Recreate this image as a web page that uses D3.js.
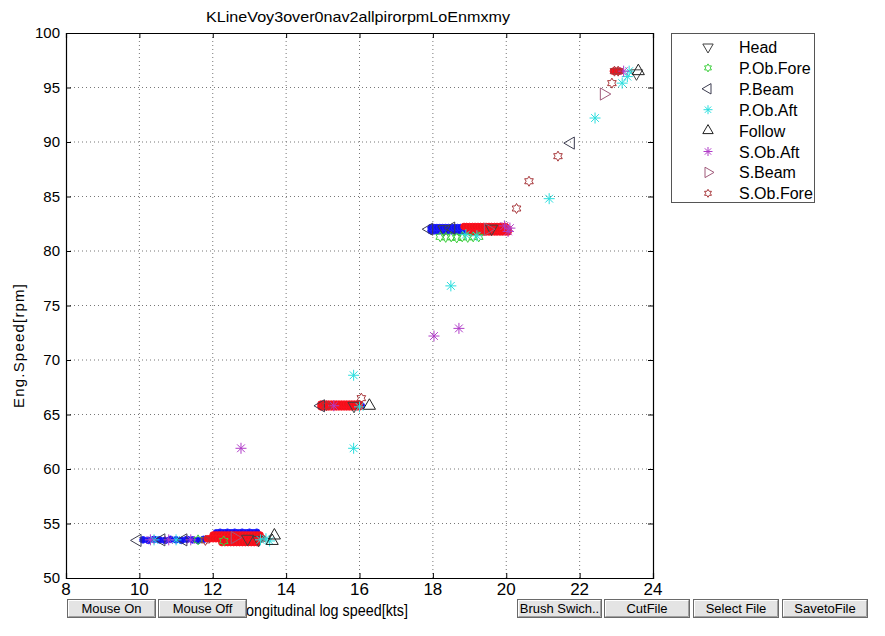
<!DOCTYPE html>
<html>
<head>
<meta charset="utf-8">
<script src="https://cdn.jsdelivr.net/npm/d3@7"></script>
<style>
  html, body { margin: 0; padding: 0; background: #ffffff; }
  svg { display: block; }
</style>
</head>
<body>
<svg id="chart" width="885" height="636"></svg>
<script>
// ---- data -------------------------------------------------------------
const chartTitle = "KLineVoy3over0nav2allpirorpmLoEnmxmy";
const xLabel = "Longitudinal log speed[kts]";
const yLabel = "Eng.Speed[rpm]";
const xTicks = [8, 10, 12, 14, 16, 18, 20, 22, 24];
const yTicks = [50, 55, 60, 65, 70, 75, 80, 85, 90, 95, 100];
const seriesNames = ["Head", "P.Ob.Fore", "P.Beam", "P.Ob.Aft", "Follow", "S.Ob.Aft", "S.Beam", "S.Ob.Fore"];
const buttonLabels = ["Mouse On", "Mouse Off", "Brush Swich..", "CutFile", "Select File", "SavetoFile"];

// [speed kts, engine rpm]
const headPts = [[12.95, 53.6], [13.25, 53.5], [15.85, 65.8], [18.3, 82.0], [19.6, 82.05], [23.55, 96.3]];
const pObForePts = [[11.6, 53.5], [12.3, 53.4], [18.2, 81.3], [18.35, 81.25], [18.5, 81.3], [18.65, 81.2],
  [18.8, 81.3], [18.95, 81.25], [19.1, 81.3], [19.25, 81.3]];
const pBeamPts = [[9.95, 53.45], [10.6, 53.5], [11.2, 53.5], [14.95, 65.8], [17.9, 82.0], [18.5, 82.1], [21.76, 89.9]];
const pObAftPts = [[10.4, 53.5], [11.0, 53.5], [13.3, 53.5], [13.45, 53.6], [13.55, 53.4], [16.0, 65.7],
  [15.84, 68.6], [15.84, 61.9], [18.9, 81.5], [19.2, 81.4], [18.49, 76.8], [21.17, 84.8], [22.42, 92.2],
  [23.16, 95.4], [23.3, 96.0], [23.35, 96.5]];
const followPts = [[13.62, 53.4], [13.68, 53.9], [16.27, 65.8], [23.6, 96.5]];
const sObAftPts = [[10.3, 53.5], [10.8, 53.5], [11.4, 53.5], [15.3, 65.8], [12.77, 61.9], [18.03, 72.2],
  [18.71, 72.9], [19.95, 82.3], [20.05, 81.8], [20.1, 82.1], [23.2, 96.5]];
const sBeamPts = [[12.6, 53.7], [19.5, 82.0], [22.66, 94.4]];
const sObForePts = [[11.8, 53.45], [15.1, 65.8], [16.05, 66.5], [20.28, 83.9], [20.62, 86.4], [21.41, 88.7],
  [22.88, 95.4], [22.95, 96.5], [23.05, 96.5]];

// all-data overlay (blue) and brushed selection (red)
const allPts = [
  [10.1, 53.5], [10.25, 53.45], [10.4, 53.55], [10.55, 53.5], [10.7, 53.45], [10.85, 53.55], [11.0, 53.5],
  [11.15, 53.45], [11.3, 53.55], [11.45, 53.5], [11.6, 53.45], [11.75, 53.55],
  [12.1, 54.15], [12.2, 54.2], [12.3, 54.15], [12.4, 54.2], [12.5, 54.15], [12.6, 54.2], [12.7, 54.15],
  [12.8, 54.2], [12.9, 54.15], [13.0, 54.2], [13.1, 54.15], [13.2, 54.2],
  [15.95, 65.85], [16.05, 65.8],
  [17.95, 81.85], [18.03, 81.85], [18.11, 81.85], [18.19, 81.85], [18.27, 81.85], [18.35, 81.85], [18.43, 81.85],
  [18.51, 81.85], [18.59, 81.85], [18.67, 81.85], [18.75, 81.85], [18.83, 81.85], [18.91, 81.85], [18.99, 81.85],
  [19.07, 81.85],
  [17.95, 82.15], [18.03, 82.15], [18.11, 82.15], [18.19, 82.15], [18.27, 82.15], [18.35, 82.15], [18.43, 82.15],
  [18.51, 82.15], [18.59, 82.15], [18.67, 82.15], [18.75, 82.15], [18.83, 82.15], [18.91, 82.15], [18.99, 82.15],
  [19.07, 82.15]
];
const brushedPts = [
  [12.01, 53.95], [12.09, 53.95], [12.17, 53.95], [12.25, 53.95], [12.33, 53.95], [12.41, 53.95], [12.49, 53.95],
  [12.57, 53.95], [12.65, 53.95], [12.73, 53.95], [12.81, 53.95], [12.89, 53.95], [12.97, 53.95], [13.05, 53.95],
  [13.13, 53.95], [13.21, 53.95], [13.29, 53.95],
  [11.85, 53.6], [11.93, 53.6], [12.01, 53.6], [12.09, 53.6], [12.17, 53.6], [12.25, 53.6], [12.33, 53.6],
  [12.41, 53.6], [12.49, 53.6], [12.57, 53.6], [12.65, 53.6], [12.73, 53.6], [12.81, 53.6], [12.89, 53.6],
  [12.97, 53.6], [13.05, 53.6], [13.13, 53.6], [13.21, 53.6], [13.29, 53.6], [13.37, 53.6],
  [12.25, 53.25], [12.33, 53.25], [12.41, 53.25], [12.49, 53.25], [12.57, 53.25], [12.65, 53.25], [12.73, 53.25],
  [12.81, 53.25], [12.89, 53.25], [12.97, 53.25], [13.05, 53.25], [13.13, 53.25], [13.21, 53.25],
  [14.95, 65.7], [15.02, 65.7], [15.09, 65.7], [15.16, 65.7], [15.23, 65.7], [15.3, 65.7], [15.37, 65.7],
  [15.44, 65.7], [15.51, 65.7], [15.58, 65.7], [15.65, 65.7], [15.72, 65.7], [15.79, 65.7], [15.86, 65.7],
  [15.93, 65.7], [16.0, 65.7],
  [14.95, 65.95], [15.02, 65.95], [15.09, 65.95], [15.16, 65.95], [15.23, 65.95], [15.3, 65.95], [15.37, 65.95],
  [15.44, 65.95], [15.51, 65.95], [15.58, 65.95], [15.65, 65.95], [15.72, 65.95], [15.79, 65.95], [15.86, 65.95],
  [15.93, 65.95], [16.0, 65.95],
  [19.0, 81.75], [19.08, 81.75], [19.15, 81.75], [19.23, 81.75], [19.3, 81.75], [19.38, 81.75], [19.45, 81.75],
  [19.53, 81.75], [19.6, 81.75], [19.68, 81.75], [19.75, 81.75], [19.83, 81.75], [19.9, 81.75], [19.98, 81.75],
  [20.05, 81.75],
  [19.0, 82.0], [19.08, 82.0], [19.15, 82.0], [19.23, 82.0], [19.3, 82.0], [19.38, 82.0], [19.45, 82.0],
  [19.53, 82.0], [19.6, 82.0], [19.68, 82.0], [19.75, 82.0], [19.83, 82.0], [19.9, 82.0], [19.98, 82.0],
  [20.05, 82.0],
  [18.85, 82.25], [18.92, 82.25], [19.0, 82.25], [19.08, 82.25], [19.15, 82.25], [19.23, 82.25], [19.3, 82.25],
  [19.38, 82.25], [19.45, 82.25], [19.53, 82.25], [19.6, 82.25], [19.68, 82.25], [19.75, 82.25], [19.83, 82.25],
  [19.9, 82.25], [19.98, 82.25],
  [22.92, 96.5], [22.98, 96.5], [23.04, 96.5], [23.1, 96.5]
];

// ---- layout -----------------------------------------------------------
const svg = d3.select("#chart");
const plot = { left: 66, right: 653, top: 33, bottom: 578 };
const x = d3.scaleLinear().domain([8, 24]).range([plot.left, plot.right]);
const y = d3.scaleLinear().domain([50, 100]).range([plot.bottom, plot.top]);
const uiFont = "'Liberation Sans', Arial, sans-serif";
const narrowFont = "'Liberation Sans Narrow', 'Liberation Sans', Arial, sans-serif";

// ---- marker shapes ----------------------------------------------------
function triPath(dir, r) {
  const a = { down: 90, up: -90, left: 180, right: 0 }[dir];
  const pts = [0, 120, 240].map(d => {
    const t = (a + d) * Math.PI / 180;
    return [r * Math.cos(t), r * Math.sin(t)];
  });
  return "M" + pts.map(p => p.join(",")).join("L") + "Z";
}
function hexagramPath(r) {
  const pts = [];
  for (let i = 0; i < 12; i++) {
    const rr = i % 2 === 0 ? r : r / Math.sqrt(3);
    const t = (-90 + i * 30) * Math.PI / 180;
    pts.push([rr * Math.cos(t), rr * Math.sin(t)]);
  }
  return "M" + pts.map(p => p.join(",")).join("L") + "Z";
}
function asteriskPath(r) {
  const d = r * Math.SQRT1_2;
  return `M${-r},0L${r},0M0,${-r}L0,${r}M${-d},${-d}L${d},${d}M${-d},${d}L${d},${-d}`;
}

const styles = [
  { name: seriesNames[0], data: headPts, color: "#404040", path: triPath("down", 7), key: triPath("down", 6) },
  { name: seriesNames[1], data: pObForePts, color: "#3ccf3c", path: hexagramPath(5), key: hexagramPath(4) },
  { name: seriesNames[2], data: pBeamPts, color: "#3d3d50", path: triPath("left", 7), key: triPath("left", 6) },
  { name: seriesNames[3], data: pObAftPts, color: "#2adede", path: asteriskPath(5.5), key: asteriskPath(4.5) },
  { name: seriesNames[4], data: followPts, color: "#202020", path: triPath("up", 7), key: triPath("up", 6) },
  { name: seriesNames[5], data: sObAftPts, color: "#b03cc8", path: asteriskPath(5.5), key: asteriskPath(4.5) },
  { name: seriesNames[6], data: sBeamPts, color: "#a05a7a", path: triPath("right", 7), key: triPath("right", 6) },
  { name: seriesNames[7], data: sObForePts, color: "#a8383c", path: hexagramPath(5), key: hexagramPath(4) }
];

// ---- grid -------------------------------------------------------------
const grid = svg.append("g");
grid.selectAll("line.gx").data(xTicks.slice(1, -1)).join("line")
  .attr("x1", d => x(d)).attr("x2", d => x(d))
  .attr("y1", plot.top).attr("y2", plot.bottom)
  .attr("stroke", "#777").attr("stroke-width", 1).attr("stroke-dasharray", "1,3");
grid.selectAll("line.gy").data(yTicks.slice(1, -1)).join("line")
  .attr("y1", d => y(d)).attr("y2", d => y(d))
  .attr("x1", plot.left).attr("x2", plot.right)
  .attr("stroke", "#777").attr("stroke-width", 1).attr("stroke-dasharray", "1,3");

// ---- marks ------------------------------------------------------------
const marks = svg.append("g");
marks.selectAll("circle.all").data(allPts).join("circle")
  .attr("cx", d => x(d[0])).attr("cy", d => y(d[1])).attr("r", 3.3)
  .attr("fill", "#1010f0").attr("stroke", "#2020ff").attr("stroke-width", 1);
marks.selectAll("circle.brushed").data(brushedPts).join("circle")
  .attr("cx", d => x(d[0])).attr("cy", d => y(d[1])).attr("r", 3.3)
  .attr("fill", "#f01018").attr("stroke", "#ff1020").attr("stroke-width", 1);

styles.forEach(s => {
  marks.append("g").selectAll("path").data(s.data).join("path")
    .attr("transform", d => `translate(${x(d[0])},${y(d[1])})`)
    .attr("d", s.path)
    .attr("fill", "none").attr("stroke", s.color).attr("stroke-width", 1);
});

// ---- axes box ---------------------------------------------------------
const axisG = svg.append("g");
const bottomAxis = d3.axisBottom(x).tickValues(xTicks).tickSize(-5).tickFormat("");
const topAxis = d3.axisTop(x).tickValues(xTicks).tickSize(-5).tickFormat("");
const leftAxis = d3.axisLeft(y).tickValues(yTicks).tickSize(-5).tickFormat("");
const rightAxis = d3.axisRight(y).tickValues(yTicks).tickSize(-5).tickFormat("");
axisG.append("g").attr("transform", `translate(0,${plot.bottom})`).call(bottomAxis);
axisG.append("g").attr("transform", `translate(0,${plot.top})`).call(topAxis);
axisG.append("g").attr("transform", `translate(${plot.left},0)`).call(leftAxis);
axisG.append("g").attr("transform", `translate(${plot.right},0)`).call(rightAxis);
axisG.selectAll(".domain").attr("stroke", "#000").attr("stroke-width", 1.2);
axisG.selectAll(".tick line").attr("stroke", "#000");

// tick labels
svg.append("g").selectAll("text").data(xTicks).join("text")
  .attr("x", d => x(d)).attr("y", 595)
  .attr("text-anchor", "middle")
  .attr("font-family", narrowFont).attr("font-size", 17)
  .attr("fill", "#000").text(d => d);
svg.append("g").selectAll("text").data(yTicks).join("text")
  .attr("x", plot.left - 6).attr("y", d => y(d) + 5)
  .attr("text-anchor", "end")
  .attr("font-family", uiFont).attr("font-size", 15)
  .attr("fill", "#000").text(d => d);

// title and axis labels
svg.append("text").attr("x", 206).attr("y", 22)
  .attr("font-family", uiFont).attr("font-size", 15)
  .attr("textLength", 304).attr("lengthAdjust", "spacingAndGlyphs")
  .attr("fill", "#000").text(chartTitle);
svg.append("text").attr("transform", "translate(24,346) rotate(-90)").attr("text-anchor", "middle")
  .attr("font-family", uiFont).attr("font-size", 15)
  .attr("textLength", 124).attr("lengthAdjust", "spacing")
  .attr("fill", "#000").text(yLabel);
svg.append("text").attr("x", 238).attr("y", 616)
  .attr("font-family", narrowFont).attr("font-size", 17)
  .attr("textLength", 170).attr("lengthAdjust", "spacingAndGlyphs")
  .attr("fill", "#000").text(xLabel);

// ---- legend -----------------------------------------------------------
const legend = svg.append("g");
legend.append("rect").attr("x", 671.5).attr("y", 33.5).attr("width", 143).attr("height", 169)
  .attr("fill", "#fff").attr("stroke", "#555").attr("stroke-width", 1);
const legendRows = legend.selectAll("g.row").data(styles).join("g")
  .attr("transform", (d, i) => `translate(0,${47 + i * 20.9})`);
legendRows.append("path")
  .attr("transform", "translate(708,0)")
  .attr("d", d => d.key)
  .attr("fill", "none").attr("stroke", d => d.color).attr("stroke-width", 1);
legendRows.append("text").attr("x", 739).attr("y", 6)
  .attr("font-family", uiFont).attr("font-size", 16).attr("fill", "#000").text(d => d.name);

// ---- control buttons --------------------------------------------------
const buttonBoxes = [[67, 88], [158, 88], [517, 84], [604, 85], [693, 85], [782, 85]];
const btn = svg.append("g").selectAll("g").data(buttonLabels).join("g")
  .attr("transform", (d, i) => `translate(${buttonBoxes[i][0]},599)`);
btn.append("rect").attr("x", 0.5).attr("y", 0.5)
  .attr("width", (d, i) => buttonBoxes[i][1]).attr("height", 18)
  .attr("fill", "#e4e4e4").attr("stroke", "#6a6a6a");
btn.append("path")
  .attr("d", (d, i) => `M1.5,17.5V1.5H${buttonBoxes[i][1] - 0.5}`)
  .attr("fill", "none").attr("stroke", "#ffffff");
btn.append("path")
  .attr("d", (d, i) => `M1.5,17.5H${buttonBoxes[i][1] - 0.5}V1.5`)
  .attr("fill", "none").attr("stroke", "#a0a0a0");
btn.append("text")
  .attr("x", (d, i) => buttonBoxes[i][1] / 2 + 0.5).attr("y", 14)
  .attr("text-anchor", "middle")
  .attr("font-family", narrowFont).attr("font-size", 13).attr("fill", "#000")
  .text(d => d);
</script>
</body>
</html>
